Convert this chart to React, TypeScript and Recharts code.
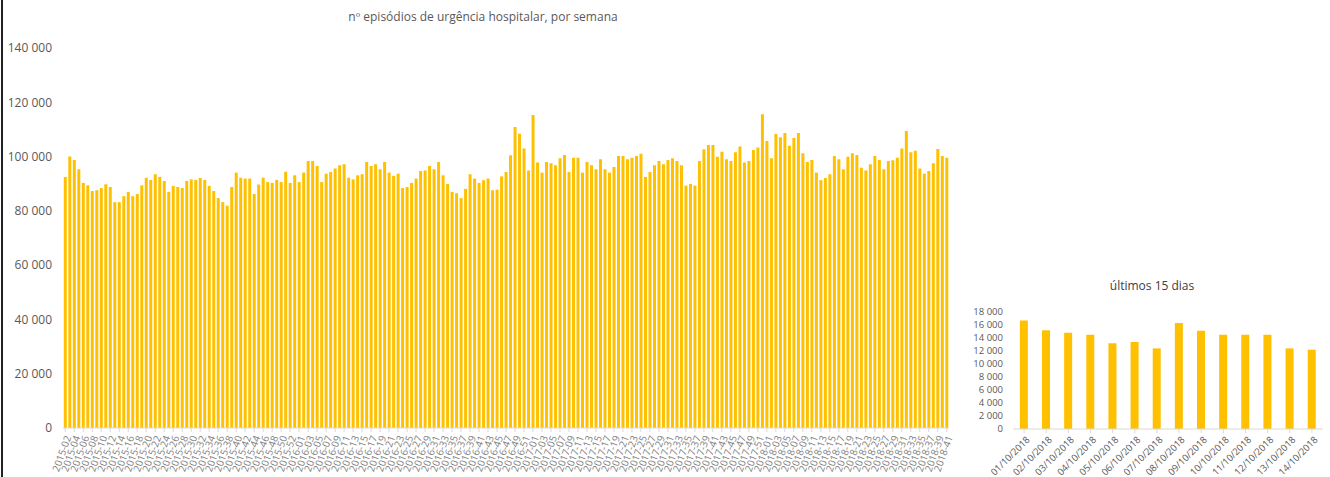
import React from "react";
import { BarChart, Bar, XAxis, YAxis } from "recharts";

// weekly totals, one array per year (2015 starts at week 02)
const weeks2015 = [
  92500, 100000, 98700, 95300, 90300, 89400, 87300, 87600, 88400, 89800,
  88800, 83200, 83200, 85400, 87000, 85400, 86200, 89400, 92200, 91400,
  93500, 92500, 91000, 87000, 89200, 88800, 88400, 91000, 91600, 91400,
  92100, 91400, 89200, 87300, 84700, 83200, 81900, 88800, 94100, 92200,
  91900, 91900, 86200, 89700, 92200, 90600, 90300, 91400, 90600, 94400,
  90300, 93100,
];
const weeks2016 = [
  90600, 94100, 98400, 98400, 96500, 90600, 93700, 94300, 95600, 96800,
  97200, 92200, 91600, 93100, 93500, 98000, 96500, 97200, 95300, 98000,
  94100, 92900, 93700, 88400, 88800, 90300, 91900, 94700, 94900, 96500,
  95300, 98000, 93100, 89900, 87000, 86500, 84700, 88100, 93500, 91900,
  90300, 91300, 91900, 87600, 87800, 92700, 94300, 100500, 110900, 108400,
  103000, 94900,
];
const weeks2017 = [
  115300, 97800, 94100, 98000, 97500, 96800, 99400, 100600, 94300, 99600,
  99600, 94100, 98000, 96800, 95300, 99000, 95300, 94100, 96200, 100200,
  100200, 99000, 99600, 100200, 101000, 92500, 94300, 96800, 98400, 97200,
  98700, 99400, 98400, 96800, 89300, 89900, 89300, 98400, 102700, 104300,
  104300, 99900, 101800, 99000, 98400, 101600, 103700, 97800, 98400, 102400,
  103300, 115600,
];
const weeks2018 = [
  105700, 99400, 108300, 107100, 108700, 104000, 106800, 108700, 101200, 98000,
  98700, 94100, 91300, 92100, 93500, 100200, 99000, 95300, 99900, 101200,
  100600, 95900, 94900, 97200, 100200, 98700, 95300, 98400, 98600, 99600,
  103000, 109400, 101600, 102100, 95600, 93700, 94700, 97500, 102800, 100200,
  99600,
];

const years: [number, number, number[]][] = [
  [2015, 2, weeks2015],
  [2016, 1, weeks2016],
  [2017, 1, weeks2017],
  [2018, 1, weeks2018],
];

const weekly = years.flatMap(([year, first, vals]) =>
  vals.map((value, i) => ({
    week: `${year}-${String(first + i).padStart(2, "0")}`,
    value,
  }))
);

const mainTicks = [0, 20000, 40000, 60000, 80000, 100000, 120000, 140000];

// last days
const days = [
  "01/10/2018", "02/10/2018", "03/10/2018", "04/10/2018", "05/10/2018",
  "06/10/2018", "07/10/2018", "08/10/2018", "09/10/2018", "10/10/2018",
  "11/10/2018", "12/10/2018", "13/10/2018", "14/10/2018",
];
const dayValues = [
  16700, 15200, 14800, 14500, 13200, 13400, 12400, 16300, 15100, 14500,
  14500, 14500, 12400, 12200,
];
const daily = days.map((day, i) => ({ day, value: dayValues[i] }));
const dayTicks = [0, 2000, 4000, 6000, 8000, 10000, 12000, 14000, 16000, 18000];

const FONT = "'Open Sans', sans-serif";
const GOLD = "#FFC000";

const fmt = (v: number) => String(v).replace(/\B(?=(\d{3})+(?!\d))/g, " ");

const WeekTick = (props: any) => {
  const { x, payload } = props;
  return (
    <g transform={`translate(${x + 3},${436})`}>
      <text
        x={0}
        y={0}
        dy="0.35em"
        textAnchor="end"
        transform="rotate(-70)"
        fontSize={10}
        fill="#7f7f7f"
        fontFamily={FONT}
      >
        {payload.value}
      </text>
    </g>
  );
};

const DayTick = (props: any) => {
  const { x, payload } = props;
  return (
    <g transform={`translate(${x + 4},${168})`}>
      <text
        x={0}
        y={0}
        dy="0.35em"
        textAnchor="end"
        transform="rotate(-45)"
        fontSize={9.5}
        fill="#595959"
        fontFamily={FONT}
      >
        {payload.value}
      </text>
    </g>
  );
};

export default function App() {
  return (
    <div style={{ position: "absolute", left: 0, top: 0, width: 1330, height: 477, background: "#fff", overflow: "hidden" }}>
      <div style={{ position: "absolute", left: 1, top: 0, width: 2, height: 477, background: "#222" }} />
      <div
        style={{
          position: "absolute", left: 0, top: 8, width: 966, textAlign: "center",
          fontFamily: FONT, fontSize: 12, color: "#595959",
        }}
      >
        nº episódios de urgência hospitalar, por semana
      </div>
      <div style={{ position: "absolute", left: 0, top: 0 }}>
        <BarChart
          width={960}
          height={477}
          data={weekly}
          margin={{ top: 48, right: 11, bottom: 0, left: 0 }}
          barCategoryGap="18%"
        >
          <XAxis
            dataKey="week"
            interval={1}
            height={49}
            tick={(p: any) => <WeekTick {...p} />}
            tickLine={{ stroke: "#d9d9d9" }}
            tickSize={4}
            axisLine={{ stroke: "#d9d9d9" }}
          />
          <YAxis
            domain={[0, 140000]}
            ticks={mainTicks}
            interval={0}
            width={63}
            axisLine={false}
            tickLine={false}
            tickMargin={5}
            tickFormatter={fmt}
            tick={{ fontSize: 12, fill: "#595959", fontFamily: FONT }}
          />
          <Bar dataKey="value" fill={GOLD} isAnimationActive={false} />
        </BarChart>
      </div>

      <div
        style={{
          position: "absolute", left: 960, top: 277, width: 384, textAlign: "center",
          fontFamily: FONT, fontSize: 12, color: "#404040",
        }}
      >
        últimos 15 dias
      </div>
      <div style={{ position: "absolute", left: 940, top: 270 }}>
        <BarChart
          width={390}
          height={207}
          data={daily}
          margin={{ top: 42, right: 7, bottom: 0, left: 0 }}
          barCategoryGap="31%"
          style={{ overflow: "visible" }}
        >
          <XAxis
            dataKey="day"
            interval={0}
            height={48}
            tick={(p: any) => <DayTick {...p} />}
            tickLine={{ stroke: "#d9d9d9" }}
            tickSize={4}
            axisLine={{ stroke: "#d9d9d9" }}
          />
          <YAxis
            domain={[0, 18000]}
            ticks={dayTicks}
            interval={0}
            width={73}
            axisLine={false}
            tickLine={false}
            tickMargin={4}
            tickFormatter={fmt}
            tick={{ fontSize: 9.5, fill: "#595959", fontFamily: FONT }}
          />
          <Bar dataKey="value" fill={GOLD} isAnimationActive={false} />
        </BarChart>
      </div>
    </div>
  );
}
